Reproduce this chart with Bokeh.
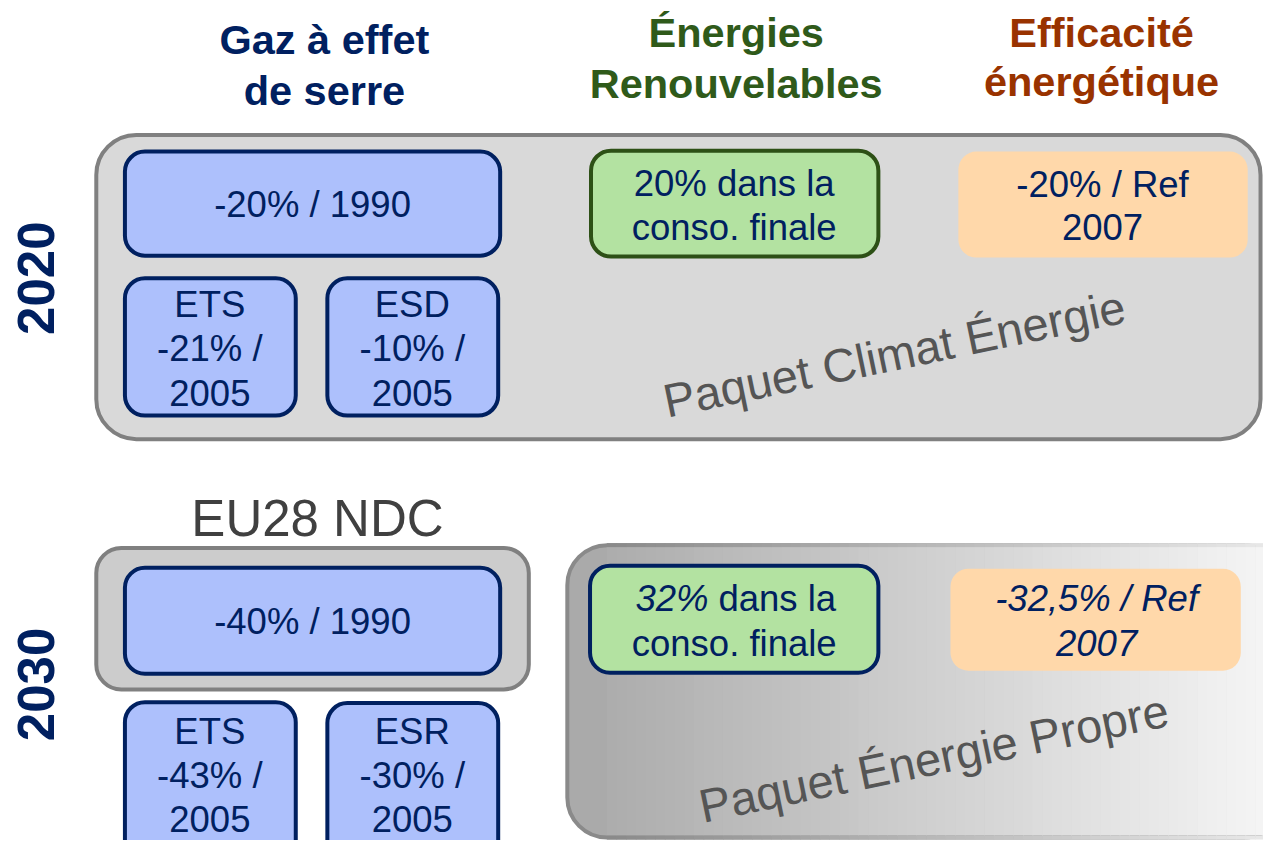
from bokeh.plotting import figure
from bokeh.models import Range1d
from bokeh.core.properties import value
from bokeh.embed import file_html
from bokeh.resources import INLINE

# ---------------- data ----------------
headers = [["Gaz à effet", "de serre"], ["Énergies", "Renouvelables"], ["Efficacité", "énergétique"]]
header_colors = ["#002060", "#2f5a1a", "#993300"]
years = ["2020", "2030"]

ghg_2020 = ["-20% / 1990"]
ets_2020 = ["ETS", "-21% /", "2005"]
esd_2020 = ["ESD", "-10% /", "2005"]
ren_2020 = ["20% dans la", "conso. finale"]
eff_2020 = ["-20% / Ref", "2007"]
pkg_2020 = "Paquet Climat Énergie"

ndc_label = "EU28 NDC"
ghg_2030 = ["-40% / 1990"]
ets_2030 = ["ETS", "-43% /", "2005"]
esr_2030 = ["ESR", "-30% /", "2005"]
ren_2030 = [["32%", "dans la"], "conso. finale"]
eff_2030 = ["-32,5% / Ref", "2007"]
pkg_2030 = "Paquet Énergie Propre"

NAVY = "#002060"
BLUE = "#adc0fc"
GREEN = "#b3e2a1"
ORANGE = "#ffd8aa"
FONT = "Liberation Sans"
TS = 36.5  # box text size

p = figure(width=1263, height=840, output_backend="svg", toolbar_location=None,
           x_range=Range1d(0, 1279), y_range=Range1d(856, 0), min_border=0)
p.axis.visible = False
p.grid.visible = False
p.outline_line_color = None
p.background_fill_color = "white"


def box(l, r, t, b, fill, line=None, lw=4, rad=20):
    p.quad(left=[l], right=[r], top=[t], bottom=[b], fill_color=fill,
           line_color=line, line_width=lw, border_radius=rad)


def txt(x, y, s, size=TS, color=NAVY, style="normal", align="center", angle=0.0, base="middle"):
    p.text(x=[x], y=[y], text=[s], text_font=value(FONT), text_font_size=f"{size}px",
           text_color=color, text_font_style=style, text_align=align, text_baseline=base, angle=angle)


# ---------------- headers ----------------
hx = [328, 745, 1115]
hy = [[40, 92], [33, 85], [33, 83]]
for lines, x, ys, c in zip(headers, hx, hy, header_colors):
    for s, y in zip(lines, ys):
        txt(x, y, s, size=41.5, color=c, style="bold")

txt(36, 283, years[0], size=51, style="bold", angle=1.5708)
txt(36, 697, years[1], size=51, style="bold", angle=1.5708)

# ---------------- 2020 ----------------
box(97, 1276, 137, 447, "#d9d9d9", "#808080", 4, 40)
box(126, 506, 154, 260, BLUE, NAVY)
box(126, 299, 283, 423, BLUE, NAVY)
box(331, 504, 283, 423, BLUE, NAVY)
box(598, 889, 153, 261, GREEN, "#2d5016")
box(970, 1263, 154, 262, ORANGE, None, 0, 18)

txt(316, 208, ghg_2020[0])
for s, y in zip(ets_2020, [310, 355, 400]):
    txt(212, y, s)
for s, y in zip(esd_2020, [310, 355, 400]):
    txt(417, y, s)
for s, y in zip(ren_2020, [186, 231]):
    txt(743, y, s)
for s, y in zip(eff_2020, [187, 231]):
    txt(1116, y, s)
txt(905, 360, pkg_2020, size=47, color="#555555", angle=0.205)

# ---------------- 2030 ----------------
txt(321, 528, ndc_label, size=51, color="#404040")
box(97, 535, 558, 702, "#cccccc", "#808080", 4, 25)
box(126, 506, 578, 686, BLUE, NAVY)
box(126, 299, 715, 880, BLUE, NAVY)
box(331, 504, 716, 880, BLUE, NAVY)

# gradient package box
gl, gr, gt, gb = 574, 1300, 555, 853
rad = 40
box(gl, gr, gt, gb, "#aaaaaa", "#8a8a8a", 4, rad)
n = 70
x0 = gl + rad
w = (gr - x0) / n
for i in range(n):
    f = i / (n - 1)
    v = int(round(0xad + (0xf6 - 0xad) * f))
    col = "#%02x%02x%02x" % (v, v, v)
    p.quad(left=[x0 + i * w], right=[x0 + (i + 1) * w + 0.6], top=[gt + 2], bottom=[gb - 2],
           fill_color=col, line_color=None)
    b = int(round(0x8a + (0xea - 0x8a) * f))
    bcol = "#%02x%02x%02x" % (b, b, b)
    p.segment(x0=[x0 + i * w, x0 + i * w], x1=[x0 + (i + 1) * w + 0.6, x0 + (i + 1) * w + 0.6],
              y0=[gt, gb], y1=[gt, gb], line_color=bcol, line_width=4)

box(597, 889, 576, 685, GREEN, NAVY)
box(962, 1256, 579, 683, ORANGE, None, 0, 18)

txt(316, 633, ghg_2030[0])
for s, y in zip(ets_2030, [745, 790, 834]):
    txt(212, y, s)
for s, y in zip(esr_2030, [745, 790, 834]):
    txt(417, y, s)
txt(717, 609, ren_2030[0][0], style="italic", align="right")
txt(727, 609, ren_2030[0][1], align="left")
txt(743, 655, ren_2030[1])
for s, y in zip(eff_2030, [609, 655]):
    txt(1110, y, s, style="italic")
txt(945, 772, pkg_2030, size=47, color="#555555", angle=0.205)

open("out.html", "w").write(file_html(p, INLINE))
